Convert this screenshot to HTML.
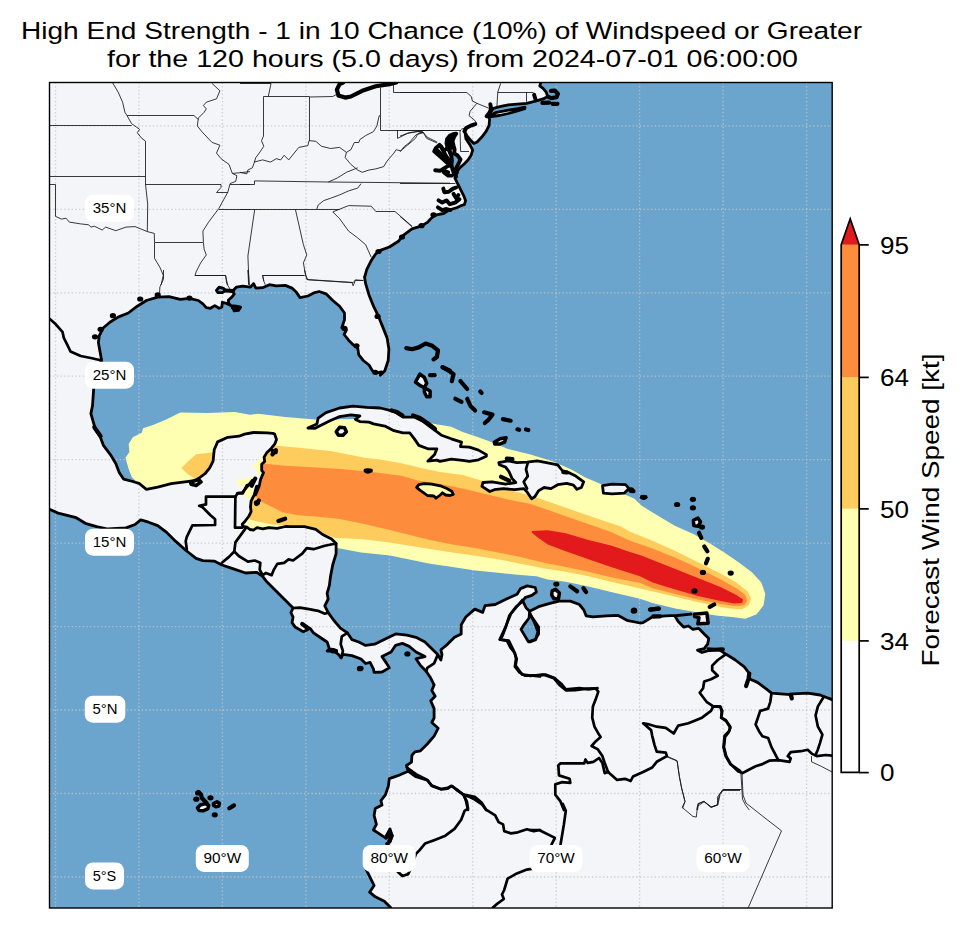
<!DOCTYPE html>
<html><head><meta charset="utf-8"><title>High End Strength wind swath</title>
<style>html,body{margin:0;padding:0;background:#fff}body{width:965px;height:928px;overflow:hidden;font-family:"Liberation Sans",sans-serif}svg{display:block;font-family:"Liberation Sans",sans-serif}</style></head><body>
<svg width="965" height="928" viewBox="0 0 965 928">
<rect width="965" height="928" fill="#fff"/>
<defs><clipPath id="mc"><rect x="49.5" y="82.5" width="782.7" height="825.5"/></clipPath>
<mask id="sea" maskUnits="userSpaceOnUse" x="0" y="0" width="965" height="928"><rect width="965" height="928" fill="#fff"/>
<path d="M540.9 82.3 L539.8 86 L543.1 88.3 L546.2 92.1 L547.7 96.6 L543.1 98.9 L535.6 101.1 L526.6 103.4 L517.5 104.1 L508.4 104.9 L500.9 106.4 L493.4 108.4 L490.3 112.4 L488.1 116.2 L489.6 119.2 L489.1 125.3 L486.1 131.3 L481.6 137.3 L477.1 141.9 L473.8 143.4 L470.7 140.3 L467 135.8 L464.4 131.3 L465 132 L465.9 138.8 L470 144.9 L472.7 150.2 L471 155.4 L468 160 L464.4 163.7 L460.5 167.2 L457.5 170.8 L456.9 173.2 L454.9 178.1 L457.9 184.1 L460.9 190.1 L463.9 196.2 L465.6 200.7 L464.4 204.6 L461.4 205.5 L455.6 208.2 L448.9 210 L443.6 213.5 L437.5 214.6 L433 216.7 L430 219.5 L427.8 222.1 L421 226.2 L412 228.9 L402.9 235.7 L398.4 241.3 L389.4 247 L380.3 250.4 L375.8 253.8 L371.2 260.6 L366.7 269.6 L364.9 276.4 L364.5 276.8 L365.6 283.6 L369 294.9 L373.5 306.2 L378 315.3 L382.6 326.6 L387.1 337.9 L388.9 349.2 L388.2 360.5 L384.8 370.7 L380.3 375.2 L381.4 371.8 L375.8 373 L372.4 370.7 L369 365 L363.3 360.5 L358.8 354.9 L357.7 348.1 L353.1 344.7 L348.6 340.2 L344.1 334.5 L346.4 330 L341.8 327.7 L344.5 319.8 L344.5 313 L339.6 306.2 L332.8 300.5 L326 293.8 L319.2 291.5 L314.7 292.6 L307.9 296 L300 297.6 L296.6 292.6 L292 288.1 L285.3 285.4 L276.2 285.8 L269.4 284.7 L262.6 287.7 L255.8 288.1 L253.6 283.6 L250.3 287.2 L242.8 286.2 L236.3 287.2 L232.6 291 L234.2 294.2 L232 296.9 L228.3 300.2 L228.8 303.4 L232.6 307.2 L234.2 310.9 L238.5 310.4 L240.6 307.2 L236.3 306.1 L230.9 305.6 L226.6 303.4 L222.3 302.3 L221.8 307.2 L219.1 308.3 L214.8 305.6 L210.5 308.3 L206.2 307.7 L202.9 303.9 L198.4 300.5 L189.4 298.3 L180.3 299.4 L169 296.7 L157.7 297.2 L146.4 300.5 L137.3 306.2 L128.3 313 L118.1 317.1 L110.2 322 L103.4 327.7 L99.3 335.6 L98.4 342.4 L100 351.5 L101.6 360.5 L95.4 371.8 L93.6 389.9 L92.5 405.8 L90.9 413.6 L95.4 429.4 L100 436.2 L103.4 445.3 L110.2 454.3 L115.8 463.4 L119.2 472.4 L123.7 479.2 L132.8 481.5 L139.6 483.7 L146.4 489.4 L157.7 487.1 L171.2 483.7 L184.8 481.9 L196.1 480.3 L205.2 473.5 L209.7 467.9 L213.1 461.1 L214.2 449.8 L217.6 441.9 L227.8 437.3 L239.1 436.2 L244.5 434.1 L253.6 432.5 L267.2 432.9 L272.8 433.4 L274.7 434.1 L276.5 439.5 L274.7 444.2 L271.2 448.4 L266.5 453.1 L264.1 457.2 L264.7 461.4 L261.7 464.3 L261.7 470.3 L263.5 472.6 L260.5 479.7 L259.3 485.7 L257 491.6 L253.4 496.3 L251.1 501.1 L250.5 507 L251.1 511.7 L248.7 516.5 L245.1 521.2 L242.2 524.2 L242.8 526.5 L246.9 527.1 L249.9 529.5 L253.4 530.1 L257 527.7 L262.9 528.9 L268.8 527.7 L277.1 528.3 L285.4 526.5 L290.9 526.6 L304.5 526.6 L315.8 529.3 L322.6 534.5 L331.6 539 L336.1 543.5 L336.1 553.7 L332.7 565 L330.5 576.4 L329.4 585.4 L327.1 593.3 L328.2 599 L324.8 605.8 L328.2 612.6 L333.9 620.5 L340.7 628.4 L347.5 632.9 L352 639.7 L358.8 642 L365.6 645.4 L374.6 644.2 L383.7 639.7 L395.6 633.9 L406.9 635.1 L416 637.3 L425 641.9 L431.8 648.7 L437.5 654.3 L440.9 660 L442 654.3 L440.9 649.8 L447.7 644.1 L454.5 637.3 L461.2 633.9 L461.2 624.9 L465.8 617 L474.8 609.1 L482.7 612.4 L485 605.7 L495.2 604.5 L506.9 598.8 L517.1 594.3 L520.5 588.6 L527.3 585.9 L535.2 587.5 L536.4 592 L531.8 595.4 L525 597.7 L522.8 601.1 L526.2 607.9 L529.6 611.2 L538.6 606.7 L549.9 603.3 L559 601.1 L570.3 601.1 L579.4 604.5 L583.9 610.1 L586.1 615.8 L592.9 616.9 L606.5 615.8 L617.8 615.3 L626.9 620.3 L640 623 L643.1 622.6 L652.2 617 L665.8 615.8 L677.1 615.4 L691.1 614.2 L674.8 615.8 L678.2 621.5 L683.9 627.2 L688.4 626 L692.9 629.4 L698.6 628.3 L704.2 633.9 L708.8 638.5 L707.6 644.1 L704.2 648.7 L697.5 650.2 L702 652.5 L711 649.8 L708.1 648.7 L719.4 649.8 L726.2 654.3 L735.3 660 L744.3 666.8 L749.3 673.5 L749.3 678.8 L757.9 682.6 L766.9 689.4 L771.5 693.2 L780.5 693.9 L790.7 694.6 L793 693.9 L807.7 693.2 L820.1 695 L832.1 699.6 L837.2 700 L837.2 913 L391 913 L390.6 907.6 L384.3 901.3 L375.3 896.8 L369.6 892.2 L374.1 885.5 L369.6 876.4 L366.2 869.6 L375.3 865.1 L393.4 864 L410.3 869.6 L408.1 874.1 L402.4 876 L397.9 871.9 L402.4 865.1 L397.9 853.8 L386.6 843.6 L390 842 L392.2 835.7 L390 828.9 L385.4 837.9 L378.7 833.4 L373.4 830 L376.4 824.4 L374.1 815.3 L375.3 808.5 L382 805.1 L380.9 800.6 L385.4 794.9 L388.4 785.9 L389.3 778.6 L397.9 775.7 L408.1 771.2 L406.5 765.5 L411.5 762.1 L411.9 755.3 L414.9 751.9 L420.5 750.8 L427.3 744 L434.1 736.1 L438.2 728.2 L431.8 722.5 L434.1 718 L434.1 708.6 L430.7 700.7 L435.2 696.2 L431.8 690.5 L434.1 684.9 L430.7 678.1 L426.2 671.3 L420.5 665.6 L416 658.8 L420.5 657.7 L425 656.6 L416 652 L409.2 646.4 L402.4 643.4 L395.6 645.3 L391.1 652 L382 656.6 L386.6 663.4 L389.3 667.9 L382 672 L374.1 672.4 L373.5 669.1 L370.1 662.3 L365.6 663.5 L361 659 L352 655.6 L342.9 654.4 L341.1 657.8 L338.4 654.4 L333.9 651 L327.1 651 L329.4 648.8 L327.1 642 L320.3 637.5 L313.5 632.9 L310.1 628.4 L302.2 623.9 L307.9 629.5 L303.3 631.8 L295.4 627.3 L292 622.7 L293.1 617.1 L290.9 612.6 L293.1 608 L288.6 603.5 L281.8 596.7 L272.8 587.7 L266 580.9 L262.6 576.4 L256.9 572.3 L245.6 573 L232 568.4 L221.9 565 L214.2 561.1 L202.9 560.7 L196.1 558.4 L186 550.5 L175.8 541.4 L166.7 532.4 L157.7 525.6 L148.6 522.2 L140.7 519.9 L135 524.5 L126 527.9 L107.9 529 L96.6 526.7 L85.3 523.3 L76.2 517.7 L67.2 515.4 L58.1 513.1 L49.5 509.3 L44.5 509 L44.5 77.5 L541 77.5 Z" fill="#000"/>
<path d="M307.9 428 L316.9 423.9 L318.1 418.2 L326 412.6 L339.6 408 L353.1 406.2 L366.7 407.4 L380.3 408 L393.9 411.4 L402.9 417.1 L414.2 417.1 L423.3 421.6 L432.3 428.4 L441.4 435.2 L451.3 438.8 L461.5 442.2 L460.4 446.7 L469.4 447.2 L478.5 450.1 L486.4 454.6 L486.4 456.2 L478.5 459.8 L469.4 461.4 L462.6 460.3 L451.3 459.2 L440 461.4 L436.9 460.1 L427.8 461.2 L434.6 454.4 L436.9 448.8 L427.8 448.8 L418.8 445.4 L414.2 438.6 L409.7 432.9 L402.9 432.9 L393.9 430.7 L384.8 426.1 L373.5 423.9 L369 422.1 L359.9 421.6 L355.4 419.4 L359.9 416 L350.9 414.8 L339.6 416.6 L330.5 420.5 L321.5 425 L314.7 428.4 L307.9 428 Z" fill="#000"/>
<path d="M490.3 115 L496.4 112.4 L508.4 110.2 L517.5 108.7 L525 107.2 L524.7 108.7 L517.5 110.9 L508.4 113.5 L499.4 115.5 L491.1 116.5 Z" fill="#000"/>
<path d="M415.4 382 L419.9 374.1 L424.4 377.5 L426.7 383.1 L424.4 387.7 L419.9 385.4 Z" fill="#000"/>
<path d="M424.4 387.7 L430.1 391.1 L430.1 396.7 L426.7 396.7 L424.4 392.2 Z" fill="#000"/>
<path d="M336.2 431.8 L339.6 427.3 L344.5 427.7 L346.4 431.8 L343 435.2 L338.4 435.2 Z" fill="#000"/>
<path d="M494.3 442.2 L500 438.8 L506.1 437.7 L504.5 442.2 L500 444 L494.8 444 Z" fill="#000"/>
<path d="M498.8 462.6 L507.9 460.8 L516.9 462.6 L527.1 462.1 L537.3 460.8 L546.4 462.6 L557.7 464.8 L562.2 470.5 L569 472.7 L575.8 476.1 L583.7 481.8 L581.4 487.5 L576.9 489.3 L573.5 485.2 L566.7 483.4 L557.7 484.7 L550.9 488.6 L544.1 487.5 L538.4 490.9 L535 496.5 L531.6 498.8 L527.1 492 L523.7 488.6 L514.7 489.7 L503.4 488.6 L494.3 489.7 L489.8 491.5 L481.9 486.3 L483 482.5 L492 481.8 L505.6 484.1 L515.8 482.5 L512 478.4 L509 471.6 L505.6 467.1 L499.3 464.8 Z" fill="#000"/>
<path d="M602.5 485.6 L612 484.1 L625.6 484.7 L629 488.6 L624.4 493.1 L612 493.8 L603.4 493.1 Z" fill="#000"/>
<path d="M693.4 520.3 L697.9 518.1 L700.6 521.9 L697.9 526.4 L693.8 525.5 Z" fill="#000"/>
<path d="M694.5 614.2 L706.9 613.1 L708.1 623.3 L697.9 623.8 L699 617.6 L694.5 616.5 Z" fill="#000"/>
<path d="M552.2 590.9 L555.6 589.3 L559.4 593.1 L558.5 598.8 L554 598.8 L551.7 595 Z" fill="#000"/>
<path d="M190.5 482.6 L198.4 479.2 L201.1 481.9 L196.1 485.5 L191.2 484.2 Z" fill="#000"/>
<path d="M197.4 807.9 L200.3 805 L205.4 803.6 L208.7 805.4 L207.9 808.7 L203.2 810.8 L198.9 810.5 Z" fill="#000"/>
<path d="M213.4 803.6 L217 801.8 L219.5 803.2 L218.8 806.1 L215.9 806.8 L213.5 805.4 Z" fill="#000"/>
</mask></defs>
<g clip-path="url(#mc)">
<rect x="49.5" y="82.5" width="782.7" height="825.5" fill="#6ba5cd"/>
<g fill="#f4f5f8">
<path d="M540.9 82.3 L539.8 86 L543.1 88.3 L546.2 92.1 L547.7 96.6 L543.1 98.9 L535.6 101.1 L526.6 103.4 L517.5 104.1 L508.4 104.9 L500.9 106.4 L493.4 108.4 L490.3 112.4 L488.1 116.2 L489.6 119.2 L489.1 125.3 L486.1 131.3 L481.6 137.3 L477.1 141.9 L473.8 143.4 L470.7 140.3 L467 135.8 L464.4 131.3 L465 132 L465.9 138.8 L470 144.9 L472.7 150.2 L471 155.4 L468 160 L464.4 163.7 L460.5 167.2 L457.5 170.8 L456.9 173.2 L454.9 178.1 L457.9 184.1 L460.9 190.1 L463.9 196.2 L465.6 200.7 L464.4 204.6 L461.4 205.5 L455.6 208.2 L448.9 210 L443.6 213.5 L437.5 214.6 L433 216.7 L430 219.5 L427.8 222.1 L421 226.2 L412 228.9 L402.9 235.7 L398.4 241.3 L389.4 247 L380.3 250.4 L375.8 253.8 L371.2 260.6 L366.7 269.6 L364.9 276.4 L364.5 276.8 L365.6 283.6 L369 294.9 L373.5 306.2 L378 315.3 L382.6 326.6 L387.1 337.9 L388.9 349.2 L388.2 360.5 L384.8 370.7 L380.3 375.2 L381.4 371.8 L375.8 373 L372.4 370.7 L369 365 L363.3 360.5 L358.8 354.9 L357.7 348.1 L353.1 344.7 L348.6 340.2 L344.1 334.5 L346.4 330 L341.8 327.7 L344.5 319.8 L344.5 313 L339.6 306.2 L332.8 300.5 L326 293.8 L319.2 291.5 L314.7 292.6 L307.9 296 L300 297.6 L296.6 292.6 L292 288.1 L285.3 285.4 L276.2 285.8 L269.4 284.7 L262.6 287.7 L255.8 288.1 L253.6 283.6 L250.3 287.2 L242.8 286.2 L236.3 287.2 L232.6 291 L234.2 294.2 L232 296.9 L228.3 300.2 L228.8 303.4 L232.6 307.2 L234.2 310.9 L238.5 310.4 L240.6 307.2 L236.3 306.1 L230.9 305.6 L226.6 303.4 L222.3 302.3 L221.8 307.2 L219.1 308.3 L214.8 305.6 L210.5 308.3 L206.2 307.7 L202.9 303.9 L198.4 300.5 L189.4 298.3 L180.3 299.4 L169 296.7 L157.7 297.2 L146.4 300.5 L137.3 306.2 L128.3 313 L118.1 317.1 L110.2 322 L103.4 327.7 L99.3 335.6 L98.4 342.4 L100 351.5 L101.6 360.5 L95.4 371.8 L93.6 389.9 L92.5 405.8 L90.9 413.6 L95.4 429.4 L100 436.2 L103.4 445.3 L110.2 454.3 L115.8 463.4 L119.2 472.4 L123.7 479.2 L132.8 481.5 L139.6 483.7 L146.4 489.4 L157.7 487.1 L171.2 483.7 L184.8 481.9 L196.1 480.3 L205.2 473.5 L209.7 467.9 L213.1 461.1 L214.2 449.8 L217.6 441.9 L227.8 437.3 L239.1 436.2 L244.5 434.1 L253.6 432.5 L267.2 432.9 L272.8 433.4 L274.7 434.1 L276.5 439.5 L274.7 444.2 L271.2 448.4 L266.5 453.1 L264.1 457.2 L264.7 461.4 L261.7 464.3 L261.7 470.3 L263.5 472.6 L260.5 479.7 L259.3 485.7 L257 491.6 L253.4 496.3 L251.1 501.1 L250.5 507 L251.1 511.7 L248.7 516.5 L245.1 521.2 L242.2 524.2 L242.8 526.5 L246.9 527.1 L249.9 529.5 L253.4 530.1 L257 527.7 L262.9 528.9 L268.8 527.7 L277.1 528.3 L285.4 526.5 L290.9 526.6 L304.5 526.6 L315.8 529.3 L322.6 534.5 L331.6 539 L336.1 543.5 L336.1 553.7 L332.7 565 L330.5 576.4 L329.4 585.4 L327.1 593.3 L328.2 599 L324.8 605.8 L328.2 612.6 L333.9 620.5 L340.7 628.4 L347.5 632.9 L352 639.7 L358.8 642 L365.6 645.4 L374.6 644.2 L383.7 639.7 L395.6 633.9 L406.9 635.1 L416 637.3 L425 641.9 L431.8 648.7 L437.5 654.3 L440.9 660 L442 654.3 L440.9 649.8 L447.7 644.1 L454.5 637.3 L461.2 633.9 L461.2 624.9 L465.8 617 L474.8 609.1 L482.7 612.4 L485 605.7 L495.2 604.5 L506.9 598.8 L517.1 594.3 L520.5 588.6 L527.3 585.9 L535.2 587.5 L536.4 592 L531.8 595.4 L525 597.7 L522.8 601.1 L526.2 607.9 L529.6 611.2 L538.6 606.7 L549.9 603.3 L559 601.1 L570.3 601.1 L579.4 604.5 L583.9 610.1 L586.1 615.8 L592.9 616.9 L606.5 615.8 L617.8 615.3 L626.9 620.3 L640 623 L643.1 622.6 L652.2 617 L665.8 615.8 L677.1 615.4 L691.1 614.2 L674.8 615.8 L678.2 621.5 L683.9 627.2 L688.4 626 L692.9 629.4 L698.6 628.3 L704.2 633.9 L708.8 638.5 L707.6 644.1 L704.2 648.7 L697.5 650.2 L702 652.5 L711 649.8 L708.1 648.7 L719.4 649.8 L726.2 654.3 L735.3 660 L744.3 666.8 L749.3 673.5 L749.3 678.8 L757.9 682.6 L766.9 689.4 L771.5 693.2 L780.5 693.9 L790.7 694.6 L793 693.9 L807.7 693.2 L820.1 695 L832.1 699.6 L837.2 700 L837.2 913 L391 913 L390.6 907.6 L384.3 901.3 L375.3 896.8 L369.6 892.2 L374.1 885.5 L369.6 876.4 L366.2 869.6 L375.3 865.1 L393.4 864 L410.3 869.6 L408.1 874.1 L402.4 876 L397.9 871.9 L402.4 865.1 L397.9 853.8 L386.6 843.6 L390 842 L392.2 835.7 L390 828.9 L385.4 837.9 L378.7 833.4 L373.4 830 L376.4 824.4 L374.1 815.3 L375.3 808.5 L382 805.1 L380.9 800.6 L385.4 794.9 L388.4 785.9 L389.3 778.6 L397.9 775.7 L408.1 771.2 L406.5 765.5 L411.5 762.1 L411.9 755.3 L414.9 751.9 L420.5 750.8 L427.3 744 L434.1 736.1 L438.2 728.2 L431.8 722.5 L434.1 718 L434.1 708.6 L430.7 700.7 L435.2 696.2 L431.8 690.5 L434.1 684.9 L430.7 678.1 L426.2 671.3 L420.5 665.6 L416 658.8 L420.5 657.7 L425 656.6 L416 652 L409.2 646.4 L402.4 643.4 L395.6 645.3 L391.1 652 L382 656.6 L386.6 663.4 L389.3 667.9 L382 672 L374.1 672.4 L373.5 669.1 L370.1 662.3 L365.6 663.5 L361 659 L352 655.6 L342.9 654.4 L341.1 657.8 L338.4 654.4 L333.9 651 L327.1 651 L329.4 648.8 L327.1 642 L320.3 637.5 L313.5 632.9 L310.1 628.4 L302.2 623.9 L307.9 629.5 L303.3 631.8 L295.4 627.3 L292 622.7 L293.1 617.1 L290.9 612.6 L293.1 608 L288.6 603.5 L281.8 596.7 L272.8 587.7 L266 580.9 L262.6 576.4 L256.9 572.3 L245.6 573 L232 568.4 L221.9 565 L214.2 561.1 L202.9 560.7 L196.1 558.4 L186 550.5 L175.8 541.4 L166.7 532.4 L157.7 525.6 L148.6 522.2 L140.7 519.9 L135 524.5 L126 527.9 L107.9 529 L96.6 526.7 L85.3 523.3 L76.2 517.7 L67.2 515.4 L58.1 513.1 L49.5 509.3 L44.5 509 L44.5 77.5 L541 77.5 Z"/>
<path d="M307.9 428 L316.9 423.9 L318.1 418.2 L326 412.6 L339.6 408 L353.1 406.2 L366.7 407.4 L380.3 408 L393.9 411.4 L402.9 417.1 L414.2 417.1 L423.3 421.6 L432.3 428.4 L441.4 435.2 L451.3 438.8 L461.5 442.2 L460.4 446.7 L469.4 447.2 L478.5 450.1 L486.4 454.6 L486.4 456.2 L478.5 459.8 L469.4 461.4 L462.6 460.3 L451.3 459.2 L440 461.4 L436.9 460.1 L427.8 461.2 L434.6 454.4 L436.9 448.8 L427.8 448.8 L418.8 445.4 L414.2 438.6 L409.7 432.9 L402.9 432.9 L393.9 430.7 L384.8 426.1 L373.5 423.9 L369 422.1 L359.9 421.6 L355.4 419.4 L359.9 416 L350.9 414.8 L339.6 416.6 L330.5 420.5 L321.5 425 L314.7 428.4 L307.9 428 Z"/>
<path d="M490.3 115 L496.4 112.4 L508.4 110.2 L517.5 108.7 L525 107.2 L524.7 108.7 L517.5 110.9 L508.4 113.5 L499.4 115.5 L491.1 116.5 Z"/>
<path d="M415.4 382 L419.9 374.1 L424.4 377.5 L426.7 383.1 L424.4 387.7 L419.9 385.4 Z"/>
<path d="M424.4 387.7 L430.1 391.1 L430.1 396.7 L426.7 396.7 L424.4 392.2 Z"/>
<path d="M336.2 431.8 L339.6 427.3 L344.5 427.7 L346.4 431.8 L343 435.2 L338.4 435.2 Z"/>
<path d="M494.3 442.2 L500 438.8 L506.1 437.7 L504.5 442.2 L500 444 L494.8 444 Z"/>
<path d="M498.8 462.6 L507.9 460.8 L516.9 462.6 L527.1 462.1 L537.3 460.8 L546.4 462.6 L557.7 464.8 L562.2 470.5 L569 472.7 L575.8 476.1 L583.7 481.8 L581.4 487.5 L576.9 489.3 L573.5 485.2 L566.7 483.4 L557.7 484.7 L550.9 488.6 L544.1 487.5 L538.4 490.9 L535 496.5 L531.6 498.8 L527.1 492 L523.7 488.6 L514.7 489.7 L503.4 488.6 L494.3 489.7 L489.8 491.5 L481.9 486.3 L483 482.5 L492 481.8 L505.6 484.1 L515.8 482.5 L512 478.4 L509 471.6 L505.6 467.1 L499.3 464.8 Z"/>
<path d="M602.5 485.6 L612 484.1 L625.6 484.7 L629 488.6 L624.4 493.1 L612 493.8 L603.4 493.1 Z"/>
<path d="M693.4 520.3 L697.9 518.1 L700.6 521.9 L697.9 526.4 L693.8 525.5 Z"/>
<path d="M694.5 614.2 L706.9 613.1 L708.1 623.3 L697.9 623.8 L699 617.6 L694.5 616.5 Z"/>
<path d="M552.2 590.9 L555.6 589.3 L559.4 593.1 L558.5 598.8 L554 598.8 L551.7 595 Z"/>
<path d="M190.5 482.6 L198.4 479.2 L201.1 481.9 L196.1 485.5 L191.2 484.2 Z"/>
<path d="M197.4 807.9 L200.3 805 L205.4 803.6 L208.7 805.4 L207.9 808.7 L203.2 810.8 L198.9 810.5 Z"/>
<path d="M213.4 803.6 L217 801.8 L219.5 803.2 L218.8 806.1 L215.9 806.8 L213.5 805.4 Z"/>
</g>
<g fill="#6ba5cd">
<path d="M529.6 611.2 L529.1 618 L523.9 624.8 L521 629.4 L525 636.1 L528.4 641.8 L535.2 639.5 L538.6 633.9 L538.6 627.1 L534.1 620.3 L530 614.6 Z"/>
<path d="M216.4 290.5 L219.1 287.2 L223.4 288.3 L225.6 290.5 L222.3 292.6 L218 292.6 Z"/>
<path d="M451.4 155.2 L457.3 156.2 L460 160.5 L457.3 164.9 L455.7 170.2 L456.2 173.5 L453.5 172.4 L451.9 168.1 L451.7 161.6 Z"/>
<path d="M530 613.6 L534.5 622.6 L537.9 631.7 L535.7 639.6 L530 641.9 Z"/>
</g>
<g stroke="#c4c5c6" stroke-width="1.3" stroke-dasharray="1.3 2.39" stroke-opacity="0.85" fill="none">
<path d="M55.5 82.5 V908.0"/>
<path d="M138.9 82.5 V908.0"/>
<path d="M222.4 82.5 V908.0"/>
<path d="M305.9 82.5 V908.0"/>
<path d="M389.3 82.5 V908.0"/>
<path d="M472.8 82.5 V908.0"/>
<path d="M556.2 82.5 V908.0"/>
<path d="M639.6 82.5 V908.0"/>
<path d="M723.1 82.5 V908.0"/>
<path d="M806.6 82.5 V908.0"/>
<path d="M49.5 125.9 H832.2"/>
<path d="M49.5 209.4 H832.2"/>
<path d="M49.5 292.8 H832.2"/>
<path d="M49.5 376.2 H832.2"/>
<path d="M49.5 459.7 H832.2"/>
<path d="M49.5 543.1 H832.2"/>
<path d="M49.5 626.6 H832.2"/>
<path d="M49.5 710.0 H832.2"/>
<path d="M49.5 793.5 H832.2"/>
<path d="M49.5 877.0 H832.2"/>
</g>
<g mask="url(#sea)">
<path d="M180.3 412.4 L207.5 413 L234.6 412.1 L250 414.8 L258.1 413.7 L285.3 417.1 L314.7 419.4 L360 419 L421 420.5 L434.6 423.9 L451.3 426.8 L462.6 432 L476.2 436.5 L492 442.2 L507.9 449 L530.5 454.6 L553.1 461.4 L571.3 469.4 L584.8 477.3 L598.4 482.9 L634.6 498.8 L641.3 505.6 L652.6 512.4 L663.9 519.2 L675.3 526 L693.4 533.9 L709.2 543 L725 553.1 L738.6 562.2 L752.2 572.4 L761.3 582.6 L765.3 593.9 L763.5 605.2 L756.7 614.2 L745.4 618.8 L731.8 617 L716 615.4 L697.9 612.4 L675.3 608.6 L652.6 602.9 L640 598.8 L611 592 L588.4 586.4 L565.8 581.8 L547.7 579.6 L536.4 576.2 L520.5 575 L497.9 572.8 L475.3 570.5 L452.6 567.1 L430 563.7 L390 555.5 L361 552.6 L337.3 548 L300 540 L245.6 527 L230 500 L200 492 L147 493 L138 485 L135 480.3 L131.7 476.9 L128.3 467.9 L125.5 457.7 L129.4 452 L128.7 444.1 L132.8 437.3 L141.8 432.8 L143 428.3 L153.1 424.9 L166.7 419.2 Z" fill="#ffffb2"/>
<path d="M262 445 L273.9 445.4 L296.6 447.6 L330.5 451 L364.5 457.8 L380 459.5 L401.6 463.2 L423.1 468.6 L440 472 L462.6 475 L485.3 481.8 L507.9 489.7 L530.5 495.4 L553.1 503.3 L575.8 511.2 L598.4 519.1 L621 526.4 L630 531.7 L652.6 540.7 L675.3 550.9 L697.9 562.2 L720.5 573.5 L736.4 582.6 L747.7 591.6 L751 598.4 L748.8 605.2 L742 609.3 L729.6 608.6 L709.2 604.7 L686.6 599.5 L664 593.9 L640 588.6 L611 581.8 L588.4 576.2 L565.8 571.7 L543.1 568.3 L520.5 563.7 L497.9 559.2 L475.3 555.8 L452.6 552.4 L430 549 L390 542.4 L361 539 L336.1 537.9 L310 530 L288.6 525.4 L270.5 524.3 L250.2 519.8 L240 500 L250 470 Z" fill="#fecc5c"/>
<path d="M181.4 467.9 L187.1 462.2 L196.1 454.3 L212 452.5 L218 455 L216 475 L202.9 478 L196.1 480 L187.1 473.5 Z" fill="#fecc5c"/>
<path d="M258 463 L262.6 463.5 L285.3 465.7 L307.9 466.9 L341.8 469.1 L375.8 472.5 L401.6 475.8 L417.7 480.4 L440 484 L462.6 488.6 L485.3 494 L507.9 499.5 L530.5 504 L543.1 508.3 L565.8 516.2 L588.4 524.1 L611 532 L630 540.7 L652.6 548.6 L675.3 557.7 L697.9 567.9 L720.5 579.2 L736.4 588.2 L745.4 595 L747.2 600.7 L744.3 605.2 L736.4 606.3 L720.5 604.1 L697.9 599.5 L675.3 593.9 L652.6 588.2 L640 583 L611 577.3 L588.4 571.7 L565.8 567.1 L543.1 562.6 L520.5 556.9 L497.9 552.4 L475.3 547.9 L452.6 544.5 L430 540 L390 530 L361 523.2 L338.4 518.7 L315.8 516.4 L297.7 515.3 L281.8 511.9 L270.5 506.2 L259.2 500.5 L252 492.6 L252 483.6 L255 470 Z" fill="#fd8d3c"/>
<path d="M531.8 530.9 L547.7 530.2 L565.8 533.2 L588.4 540 L611 545.6 L630 552 L641.3 555.4 L652.6 559.9 L675.3 569 L697.9 578 L720.5 587.1 L736.4 595 L743.1 599.5 L742 602.9 L734.1 603.4 L720.5 601.1 L697.9 596.1 L675.3 589.4 L652.6 582.6 L640 576.2 L611 567.1 L588.4 559.2 L565.8 551.3 L547.7 544.5 L536.4 536.6 L531.8 532.5 Z" fill="#e31a1c"/>
</g>
<path d="M252.2 465.5 L260.5 458.4 L264.1 457.8 L261.7 464.3 L261.7 470.3 L262.9 472.6 L258.2 475 L255.2 471.5 L256.4 467.9 L252.8 466.7 Z" fill="#ffffb2"/>
<path d="M236.3 485.1 L238 479.7 L245.1 478.6 L253.4 476.8 L254.6 478.6 L251.6 484.5 L246.9 485.1 L245.1 488 L240.4 485.7 Z" fill="#ffffb2"/>
<path d="M242.8 494 L247.5 485.7 L252 485.1 L253.4 491.6 L250.5 499.9 L248.7 496.9 L246.9 498.1 L244 496.9 Z" fill="#ffffb2"/>
<path d="M416.6 487.4 L418.8 484.7 L424.2 483.6 L431.7 484.2 L440.3 485.8 L446.8 488.5 L451.7 491.2 L453.3 494.4 L450 495.5 L445.7 495 L442.5 492.8 L440.3 495 L436 498.2 L433.9 496 L427.4 495.5 L423.1 492.3 L419.9 490.1 Z" fill="#ffffb2"/>
<g stroke="#161616" stroke-width="0.85" fill="none" stroke-linejoin="round">
<path d="M112.4 82.5 L118.1 92 L122.6 102.2 L124.9 112.3 L127.1 115.7 L131.6 123.7 L139.6 129.3 L137.3 132.7 L141.8 138.4 L145.5 141.1 L145.5 184.3 L147.7 204 L147.3 231.6 L154.3 233.4 L154.5 242.5 L154.5 258.3 L159.9 267.3 L163.3 275.3 L161.1 285"/>
<path d="M127.1 115.5 L193.9 115.5 L198.4 119.6"/>
<path d="M49.5 125.5 L131.6 125.5"/>
<path d="M49.5 176.5 L145.2 176.5"/>
<path d="M49.5 184.5 L55.5 184.5 L55.5 216.4 L61.5 219.1 L66 218.2 L69.4 222.1 L80.7 223.9 L88.7 224.8 L90.9 227.1 L94.3 226.2 L102.2 230 L105.6 227.1 L115.8 230.7 L126 227.1 L135 226.6 L147.3 231.6"/>
<path d="M145.2 184.5 L221 184.5 L221 187.5 L216.5 192.5 L227.8 192.5"/>
<path d="M212 83.4 L219.9 90.8 L216.5 98.8 L206.3 102.2 L203.4 105.5 L206.3 108.9 L204.1 112.3 L198.4 118 L197.3 125.9 L201.8 131.6 L212 142.4 L219.9 145.2 L216.5 153.1 L221 158.7 L229 164.4 L232.3 173.4 L236.9 175.7 L235.7 181.4 L230.1 183.6 L227.8 192.2 L218.8 208.5 L208.6 222.1 L202.9 231.1 L203.4 242.5 L204.1 249.2 L206.3 254.9 L200.7 262.8 L196.1 271.9 L195 275.7"/>
<path d="M232.3 173.4 L239.1 172.8 L250 171.6"/>
<path d="M154.7 242.5 L202.9 242.5"/>
<path d="M195 275.5 L225.6 275.5 L226.7 280.9 L227.8 285"/>
<path d="M240 83.5 L271 83.5 L268.3 96.5"/>
<path d="M309 96.5 L263.5 96.5 L263.5 136.1 L261.5 140.6 L263.8 146.3 L259.2 153.1 L255.8 157.6 L254 163.3 L252.4 167.8 L247.9 170 L246.8 173.9 L240 172.3"/>
<path d="M309.5 96.5 L309.5 140.6"/>
<path d="M309 97 L332.8 96.5 L336.9 94.2"/>
<path d="M254 162.1 L262.6 159.9 L270.5 162.1 L276.2 158.7 L280.7 159.9 L284.1 155.3 L288.7 159.9 L298.8 147.4 L307.9 145.6 L309 140.6 L315.8 141.3 L321.5 146.3 L330.5 148.5 L339.6 147.4 L346.4 152.4 L350.9 149.7 L354.3 142.5 L358.8 142.5 L359.9 139.5 L365.6 135.6 L373.5 131.6 L376.9 125.9 L379.2 115.7 L380.3 115.7"/>
<path d="M380.5 87.4 L380.5 130.5 L450 130.5"/>
<path d="M393.5 84.1 L393.5 92.5 L450 92.5"/>
<path d="M346.4 152.4 L345.2 157.6 L350.9 164.4 L357.7 170 L362.2 172.3 L369 170 L375.8 168.9 L383.7 166.6 L387.1 161 L393.9 153.1 L396.1 149.7 L400.7 150.8 L407.5 145.2 L415.4 138.4 L417.6 134.3 L423.3 132.7 L426.7 138.4 L436.9 142.9"/>
<path d="M397.5 130 L397.5 138.4 L407.5 133.4 L417.6 131.6 L423.3 132.7"/>
<path d="M357.7 167.8 L346.4 172.3 L337.3 178 L328.3 182"/>
<path d="M240 184.5 L254.5 184.5 L254.5 180.9 L328.3 182 L450 183.2"/>
<path d="M361.1 183.6 L357.7 188.1 L348.6 190.9 L339.6 194.9 L330.5 198.3 L323.7 200.6 L318.1 205.1 L316.9 209"/>
<path d="M240 209.5 L339.6 209.5"/>
<path d="M332.8 211.9 L348.6 205.6 L371.2 206.2 L375.8 211.5 L395 211.5 L412 226.2"/>
<path d="M332.8 211.9 L339.6 218.7 L348.6 231.1 L357.7 237.9 L365.6 244.7 L371.2 257.2"/>
<path d="M254.7 209.4 L247.9 256 L249.1 285"/>
<path d="M295.4 209.4 L303.4 244.7 L306.8 254.9 L303.4 262.8 L305.6 275.3 L307.9 279.8"/>
<path d="M263.8 280.9 L262.6 275.5 L304.5 275.5"/>
<path d="M307.9 279.8 L353.1 282.7 L355.4 279.8 L363.3 280.5"/>
<path d="M400 92.5 L466.8 92.5 L471.3 96.5 L472.4 101 L476.9 103.3 L489.4 108.5"/>
<path d="M476.9 103.3 L470.2 111.2 L469 115.7 L474.7 120.3 L476.9 123.7 L467.9 127 L461.1 129.3"/>
<path d="M400 130.5 L461.1 130.5"/>
<path d="M460 130 L460.6 151.5 L469 151.5"/>
<path d="M500.7 83.4 L497.8 92 L496.9 106.7"/>
<path d="M497.8 92.5 L533.5 92.5"/>
<path d="M526.5 92 L526.5 101.7"/>
<path d="M400 183.5 L455.4 183.5"/>
<path d="M400 151.9 L404.5 146.3 L409.1 142.9 L415.8 135 L422.6 131.6 L427.2 137.2 L437.3 142.2"/>
<path d="M400 136.1 L409.1 132.7 L417 131.5 L422.6 131.5"/>
<path d="M400 216.4 L412.4 227.1"/>
<path d="M163.5 270 L163.5 279.1 L159.9 287 L159.5 293.8"/>
<path d="M195 275.5 L225.6 275.5 L226.7 283.6 L230.1 289.2"/>
<path d="M248.2 270 L249.3 285.4"/>
<path d="M247.9 270 L248.6 284.7"/>
<path d="M265.3 284.7 L263.8 281.3 L262.6 275.5 L304.5 275.5"/>
<path d="M304.5 270 L306.8 279.5 L352 282.4 L353.1 285.8 L355.4 280.5 L363.3 280.5"/>
<path d="M666.9 756.1 L677.1 760.7 L679.4 776.5 L681.6 787.8 L685 801.4 L682.7 808.2"/>
<path d="M697.5 810 L698.6 803.7 L704.2 801.4 L711 807.1 L717.8 804.8 L720.1 794.6 L723.5 789.5 L740 789.5"/>
<path d="M740.9 773.1 L742.5 799.1 L745.4 804.8 L749.3 810"/>
<path d="M696.8 810 L697.9 803.7 L703.6 801.4 L711.5 807.1 L717.2 804.8 L719.4 794.6 L722.8 789.5 L741.6 789.5"/>
<path d="M811.5 756.1 L811.5 761.8 L821.2 766.3 L832.1 772"/>
<path d="M666.9 756.9 L677.1 761 L679.4 776.8 L681.6 788.2 L685 801.7 L682.1 807.4 L692.9 816.4 L696.3 817.1 L697.5 806.3 L704.2 801.7 L711 807.4 L717.8 805.1 L717.4 797.2 L722.3 790.5 L740 790.5"/>
<path d="M230.1 184.5 L250 184.5"/>
<path d="M218.8 209.5 L250 209.5"/>
<path d="M742 772.7 L743 795 L746 803 L762.8 816.3 L781.5 830.8 L748.3 907.6"/>
</g>
<g stroke="#000" stroke-width="2.7" fill="none" stroke-linejoin="round" stroke-linecap="round">
<path d="M49.5 318.7 L55.8 324.3 L62.6 332.2 L63.8 337.9 L67.2 344.7 L70.5 351.5 L80.7 356 L92 358.3 L101.6 360.5"/>
<path d="M527.8 462.6 L526 469.4 L527.8 476.1 L523.7 481.8 L527.1 488.6"/>
<path d="M522.8 601.1 L516 606.7 L509.2 615.8 L505.8 627.1 L502.4 636.1 L500.2 639.5 L506.9 640.7 L510.3 647.5 L514.9 653.1 L516 658.8 L514.9 666.7 L519.4 672.3 L525 675.7 L536.4 675.7 L545.4 674.6 L554.5 678 L561.2 683.7 L565.8 689.3 L579.4 688.2 L588.4 689.3 L597.5 688.2"/>
<path d="M186.8 549.2 L185.7 541.3 L186.8 536.8 L192.4 525.4 L215.1 525 L215.1 519.3 L210.5 515.3 L202.6 507.3 L199.2 505.8 L206 504.4 L206 496.7 L235.4 496.7"/>
<path d="M235.4 496.7 L235 527.7 L242.2 527.7"/>
<path d="M235.4 496.7 L237.7 493.1 L242.2 492.6 L247.9 485.8 L252.4 480.2"/>
<path d="M245.6 528.4 L235.4 542.4 L234.3 551.5"/>
<path d="M234.3 551.5 L228.7 557.1 L221.9 562.8"/>
<path d="M234.3 551.5 L238.8 556 L247.9 561.6 L254.7 560.5 L260.3 562.8 L259.7 569.6 L262.6 575.2"/>
<path d="M262.6 575.2 L266 573 L271.6 575.2 L273.9 569.6 L277.3 563.9 L284.1 562.8 L288.6 559.4 L293.1 560.5 L302.2 553.7 L306.7 548.1 L313.5 549.2 L324.8 545.8 L336.1 543.5"/>
<path d="M293.1 608 L299.9 607.6 L309 609.2 L318 610.8 L324.8 613.7 L328.2 612.6"/>
<path d="M347.5 632.9 L341.8 636.3 L340.7 644.2 L342.9 651 L341.1 657.8"/>
<path d="M437.5 655.4 L434.1 663.4 L427.3 667.9 L426.2 671.3"/>
<path d="M406.9 767.5 L416 774.2 L427.3 779.9 L431.8 785.6 L440.9 789 L447.7 787.8 L452.2 786 L456.7 790.1 L463.5 794.6 L465.8 800.3 L468 810"/>
<path d="M463.5 794.6 L474.8 796.9 L481.6 802.5 L486.1 810"/>
<path d="M522.3 600 L511 613.6 L505.4 627.2 L499.7 639.6 L508.8 640.7 L513.3 649.8 L516.7 658.8 L515.6 665.6 L522.3 674.7 L540 676.5"/>
<path d="M530 675.8 L543.6 674.7 L553.8 678.1 L559.4 684.9 L566.2 690.5 L575.3 690.1 L586.6 688.7 L595.6 688.3 L598.3 691.6 L595.6 699.6 L592.9 706.4 L592.2 717.7 L594.5 726.7 L599 734.6 L600.6 736.9 L595.6 741.4 L591.6 746 L597.9 749.4 L602.4 756.1 L604.7 762.9 L608.1 772"/>
<path d="M608.1 772 L604.7 773.1 L602.4 762.9 L599 758 L593.4 761.8 L587.7 762.9 L585.4 759.5 L584.3 763.4 L560.5 763.4 L558.3 765.2 L559 775.4 L569.6 778.8 L570.3 782.8 L561.7 782.2 L555.3 784.4 L555.3 794.6 L560.5 801.4 L563.9 810"/>
<path d="M608.1 772 L617.1 779.9 L625 778.8 L630.7 781 L633 776.5 L643.1 772 L652.2 767.5 L656.7 761.8 L666.9 756.1 L665.8 752.7 L656.7 751.6 L654.5 744.8 L652.2 735.8 L651.1 730.1 L643.1 723.3 L647.7 724 L656.7 726.7 L665.8 727.9 L673.7 733.5 L678.2 725.6 L688.4 723.3 L702 717.7 L711 710.9 L713.3 706.4"/>
<path d="M713.3 706.4 L706.5 701.8 L699.7 692.8 L703.1 688.3 L704.2 681.5 L711 679.2 L717.8 675.8 L712.2 670.2 L712.2 665.6 L717.8 660 L725.7 654.3"/>
<path d="M713.3 706.4 L720.1 706.4 L722.3 710.9 L721.2 717.7 L725.7 719.9 L730.3 726.7 L729.1 731.2 L724.6 735.8 L723.5 747.1 L725.7 756.1 L730.3 764.1 L740 770.9"/>
<path d="M771.5 693.2 L770.3 701.8 L768.1 708.6 L760.2 710.9 L757.9 717.7 L755.6 724.5 L759 731.2 L762.4 736.2 L768.1 738 L771.5 747.1 L778.3 760.2"/>
<path d="M712.6 706.4 L720.5 706.8 L721.7 712 L721.2 717.7 L726.2 721.1 L730.3 727.9 L728.5 732.4 L725.1 736.9 L723.9 747.1 L726.2 756.1 L730.7 764.1 L737.5 770.9 L742.5 773.1 L748.8 769.7 L755.6 766.3 L762.4 764.1 L769.2 760.7 L778.3 760.2 L789.6 761.8 L790.7 758.4 L787.8 756.1 L790.7 752.1 L800.9 751.2 L807.7 749.8 L812.2 753.9 L816.7 756.1 L825.8 755 L832.1 755.7"/>
<path d="M823.5 697.3 L817.9 706.4 L815.6 715.4 L817.9 726.7 L822.4 734.6 L820.1 742.6 L817.9 749.4 L815.6 755"/>
<path d="M408.1 771.2 L416 776.8 L427.3 780.2 L431.8 785.9 L440.9 789.3 L447.7 788.6 L451.1 785.9 L456.7 789.3 L463.5 794.9 L468 796.1"/>
<path d="M463.5 794.9 L466.9 801.7 L468 808.5 L464.6 810.8 L461.2 819.8 L454.5 828.9 L445.4 835.7 L434.1 840.2 L425 843.6 L419.4 850.4 L416 853.8 L412.6 862.8 L410.3 869.6"/>
<path d="M468 796.1 L474.8 799.5 L481.6 804 L486.1 809.6 L495.2 815.3 L498.6 822.1 L503.1 824.4 L504.2 831.1 L511 833.4 L517.8 832.3 L526.9 829.3 L533.7 831.1 L540 830"/>
<path d="M540 867.4 L526.9 869.6 L515.6 874.1 L507.6 878.7 L504.2 890 L502 894.5 L503.8 899 L497.5 903.6 L492.9 907.6"/>
<path d="M562.8 804 L565.8 810.8 L563.9 824.4 L560.5 844.7"/>
<path d="M530 830 L539.1 830 L554.9 837.9 L551.5 844.7"/>
<path d="M237.4 493.4 L242.8 493.4 L246.9 485.1 L251.6 484.5"/>
</g>
<g stroke="#000" stroke-width="2.8" fill="none" stroke-linejoin="round" stroke-linecap="round">
<path d="M540.9 82.3 L539.8 86 L543.1 88.3 L546.2 92.1 L547.7 96.6 L543.1 98.9 L535.6 101.1 L526.6 103.4 L517.5 104.1 L508.4 104.9 L500.9 106.4 L493.4 108.4 L490.3 112.4 L488.1 116.2 L489.6 119.2 L489.1 125.3 L486.1 131.3 L481.6 137.3 L477.1 141.9 L473.8 143.4 L470.7 140.3 L467 135.8 L464.4 131.3 L465 132 L465.9 138.8 L470 144.9 L472.7 150.2 L471 155.4 L468 160 L464.4 163.7 L460.5 167.2 L457.5 170.8 L456.9 173.2 L454.9 178.1 L457.9 184.1 L460.9 190.1 L463.9 196.2 L465.6 200.7 L464.4 204.6 L461.4 205.5 L455.6 208.2 L448.9 210 L443.6 213.5 L437.5 214.6 L433 216.7 L430 219.5 L427.8 222.1 L421 226.2 L412 228.9 L402.9 235.7 L398.4 241.3 L389.4 247 L380.3 250.4 L375.8 253.8 L371.2 260.6 L366.7 269.6 L364.9 276.4 L364.5 276.8 L365.6 283.6 L369 294.9 L373.5 306.2 L378 315.3 L382.6 326.6 L387.1 337.9 L388.9 349.2 L388.2 360.5 L384.8 370.7 L380.3 375.2 L381.4 371.8 L375.8 373 L372.4 370.7 L369 365 L363.3 360.5 L358.8 354.9 L357.7 348.1 L353.1 344.7 L348.6 340.2 L344.1 334.5 L346.4 330 L341.8 327.7 L344.5 319.8 L344.5 313 L339.6 306.2 L332.8 300.5 L326 293.8 L319.2 291.5 L314.7 292.6 L307.9 296 L300 297.6 L296.6 292.6 L292 288.1 L285.3 285.4 L276.2 285.8 L269.4 284.7 L262.6 287.7 L255.8 288.1 L253.6 283.6 L250.3 287.2 L242.8 286.2 L236.3 287.2 L232.6 291 L234.2 294.2 L232 296.9 L228.3 300.2 L228.8 303.4 L232.6 307.2 L234.2 310.9 L238.5 310.4 L240.6 307.2 L236.3 306.1 L230.9 305.6 L226.6 303.4 L222.3 302.3 L221.8 307.2 L219.1 308.3 L214.8 305.6 L210.5 308.3 L206.2 307.7 L202.9 303.9 L198.4 300.5 L189.4 298.3 L180.3 299.4 L169 296.7 L157.7 297.2 L146.4 300.5 L137.3 306.2 L128.3 313 L118.1 317.1 L110.2 322 L103.4 327.7 L99.3 335.6 L98.4 342.4 L100 351.5 L101.6 360.5 L95.4 371.8 L93.6 389.9 L92.5 405.8 L90.9 413.6 L95.4 429.4 L100 436.2 L103.4 445.3 L110.2 454.3 L115.8 463.4 L119.2 472.4 L123.7 479.2 L132.8 481.5 L139.6 483.7 L146.4 489.4 L157.7 487.1 L171.2 483.7 L184.8 481.9 L196.1 480.3 L205.2 473.5 L209.7 467.9 L213.1 461.1 L214.2 449.8 L217.6 441.9 L227.8 437.3 L239.1 436.2 L244.5 434.1 L253.6 432.5 L267.2 432.9 L272.8 433.4 L274.7 434.1 L276.5 439.5 L274.7 444.2 L271.2 448.4 L266.5 453.1 L264.1 457.2 L264.7 461.4 L261.7 464.3 L261.7 470.3 L263.5 472.6 L260.5 479.7 L259.3 485.7 L257 491.6 L253.4 496.3 L251.1 501.1 L250.5 507 L251.1 511.7 L248.7 516.5 L245.1 521.2 L242.2 524.2 L242.8 526.5 L246.9 527.1 L249.9 529.5 L253.4 530.1 L257 527.7 L262.9 528.9 L268.8 527.7 L277.1 528.3 L285.4 526.5 L290.9 526.6 L304.5 526.6 L315.8 529.3 L322.6 534.5 L331.6 539 L336.1 543.5 L336.1 553.7 L332.7 565 L330.5 576.4 L329.4 585.4 L327.1 593.3 L328.2 599 L324.8 605.8 L328.2 612.6 L333.9 620.5 L340.7 628.4 L347.5 632.9 L352 639.7 L358.8 642 L365.6 645.4 L374.6 644.2 L383.7 639.7 L395.6 633.9 L406.9 635.1 L416 637.3 L425 641.9 L431.8 648.7 L437.5 654.3 L440.9 660 L442 654.3 L440.9 649.8 L447.7 644.1 L454.5 637.3 L461.2 633.9 L461.2 624.9 L465.8 617 L474.8 609.1 L482.7 612.4 L485 605.7 L495.2 604.5 L506.9 598.8 L517.1 594.3 L520.5 588.6 L527.3 585.9 L535.2 587.5 L536.4 592 L531.8 595.4 L525 597.7 L522.8 601.1 L526.2 607.9 L529.6 611.2 L538.6 606.7 L549.9 603.3 L559 601.1 L570.3 601.1 L579.4 604.5 L583.9 610.1 L586.1 615.8 L592.9 616.9 L606.5 615.8 L617.8 615.3 L626.9 620.3 L640 623 L643.1 622.6 L652.2 617 L665.8 615.8 L677.1 615.4 L691.1 614.2 L674.8 615.8 L678.2 621.5 L683.9 627.2 L688.4 626 L692.9 629.4 L698.6 628.3 L704.2 633.9 L708.8 638.5 L707.6 644.1 L704.2 648.7 L697.5 650.2 L702 652.5 L711 649.8 L708.1 648.7 L719.4 649.8 L726.2 654.3 L735.3 660 L744.3 666.8 L749.3 673.5 L749.3 678.8 L757.9 682.6 L766.9 689.4 L771.5 693.2 L780.5 693.9 L790.7 694.6 L793 693.9 L807.7 693.2 L820.1 695 L832.1 699.6"/>
<path d="M390.6 907.6 L384.3 901.3 L375.3 896.8 L369.6 892.2 L374.1 885.5 L369.6 876.4 L366.2 869.6 L375.3 865.1 L393.4 864 L410.3 869.6 L408.1 874.1 L402.4 876 L397.9 871.9 L402.4 865.1 L397.9 853.8 L386.6 843.6 L390 842 L392.2 835.7 L390 828.9 L385.4 837.9 L378.7 833.4 L373.4 830 L376.4 824.4 L374.1 815.3 L375.3 808.5 L382 805.1 L380.9 800.6 L385.4 794.9 L388.4 785.9 L389.3 778.6 L397.9 775.7 L408.1 771.2 L406.5 765.5 L411.5 762.1 L411.9 755.3 L414.9 751.9 L420.5 750.8 L427.3 744 L434.1 736.1 L438.2 728.2 L431.8 722.5 L434.1 718 L434.1 708.6 L430.7 700.7 L435.2 696.2 L431.8 690.5 L434.1 684.9 L430.7 678.1 L426.2 671.3 L420.5 665.6 L416 658.8 L420.5 657.7 L425 656.6 L416 652 L409.2 646.4 L402.4 643.4 L395.6 645.3 L391.1 652 L382 656.6 L386.6 663.4 L389.3 667.9 L382 672 L374.1 672.4 L373.5 669.1 L370.1 662.3 L365.6 663.5 L361 659 L352 655.6 L342.9 654.4 L341.1 657.8 L338.4 654.4 L333.9 651 L327.1 651 L329.4 648.8 L327.1 642 L320.3 637.5 L313.5 632.9 L310.1 628.4 L302.2 623.9 L307.9 629.5 L303.3 631.8 L295.4 627.3 L292 622.7 L293.1 617.1 L290.9 612.6 L293.1 608 L288.6 603.5 L281.8 596.7 L272.8 587.7 L266 580.9 L262.6 576.4 L256.9 572.3 L245.6 573 L232 568.4 L221.9 565 L214.2 561.1 L202.9 560.7 L196.1 558.4 L186 550.5 L175.8 541.4 L166.7 532.4 L157.7 525.6 L148.6 522.2 L140.7 519.9 L135 524.5 L126 527.9 L107.9 529 L96.6 526.7 L85.3 523.3 L76.2 517.7 L67.2 515.4 L58.1 513.1 L49.5 509.3"/>
<path d="M307.9 428 L316.9 423.9 L318.1 418.2 L326 412.6 L339.6 408 L353.1 406.2 L366.7 407.4 L380.3 408 L393.9 411.4 L402.9 417.1 L414.2 417.1 L423.3 421.6 L432.3 428.4 L441.4 435.2 L451.3 438.8 L461.5 442.2 L460.4 446.7 L469.4 447.2 L478.5 450.1 L486.4 454.6 L486.4 456.2 L478.5 459.8 L469.4 461.4 L462.6 460.3 L451.3 459.2 L440 461.4 L436.9 460.1 L427.8 461.2 L434.6 454.4 L436.9 448.8 L427.8 448.8 L418.8 445.4 L414.2 438.6 L409.7 432.9 L402.9 432.9 L393.9 430.7 L384.8 426.1 L373.5 423.9 L369 422.1 L359.9 421.6 L355.4 419.4 L359.9 416 L350.9 414.8 L339.6 416.6 L330.5 420.5 L321.5 425 L314.7 428.4 L307.9 428 Z"/>
<path d="M416.6 487.4 L418.8 484.7 L424.2 483.6 L431.7 484.2 L440.3 485.8 L446.8 488.5 L451.7 491.2 L453.3 494.4 L450 495.5 L445.7 495 L442.5 492.8 L440.3 495 L436 498.2 L433.9 496 L427.4 495.5 L423.1 492.3 L419.9 490.1 Z"/>
<path d="M490.3 115 L496.4 112.4 L508.4 110.2 L517.5 108.7 L525 107.2 L524.7 108.7 L517.5 110.9 L508.4 113.5 L499.4 115.5 L491.1 116.5 Z"/>
<path d="M415.4 382 L419.9 374.1 L424.4 377.5 L426.7 383.1 L424.4 387.7 L419.9 385.4 Z" stroke-width="3.5"/>
<path d="M424.4 387.7 L430.1 391.1 L430.1 396.7 L426.7 396.7 L424.4 392.2 Z" stroke-width="3.5"/>
<path d="M336.2 431.8 L339.6 427.3 L344.5 427.7 L346.4 431.8 L343 435.2 L338.4 435.2 Z" stroke-width="3.5"/>
<path d="M494.3 442.2 L500 438.8 L506.1 437.7 L504.5 442.2 L500 444 L494.8 444 Z" stroke-width="3.5"/>
<path d="M498.8 462.6 L507.9 460.8 L516.9 462.6 L527.1 462.1 L537.3 460.8 L546.4 462.6 L557.7 464.8 L562.2 470.5 L569 472.7 L575.8 476.1 L583.7 481.8 L581.4 487.5 L576.9 489.3 L573.5 485.2 L566.7 483.4 L557.7 484.7 L550.9 488.6 L544.1 487.5 L538.4 490.9 L535 496.5 L531.6 498.8 L527.1 492 L523.7 488.6 L514.7 489.7 L503.4 488.6 L494.3 489.7 L489.8 491.5 L481.9 486.3 L483 482.5 L492 481.8 L505.6 484.1 L515.8 482.5 L512 478.4 L509 471.6 L505.6 467.1 L499.3 464.8 Z"/>
<path d="M602.5 485.6 L612 484.1 L625.6 484.7 L629 488.6 L624.4 493.1 L612 493.8 L603.4 493.1 Z"/>
<path d="M693.4 520.3 L697.9 518.1 L700.6 521.9 L697.9 526.4 L693.8 525.5 Z" stroke-width="3.5"/>
<path d="M694.5 614.2 L706.9 613.1 L708.1 623.3 L697.9 623.8 L699 617.6 L694.5 616.5 Z" stroke-width="3.5"/>
<path d="M552.2 590.9 L555.6 589.3 L559.4 593.1 L558.5 598.8 L554 598.8 L551.7 595 Z" stroke-width="3.5"/>
<path d="M190.5 482.6 L198.4 479.2 L201.1 481.9 L196.1 485.5 L191.2 484.2 Z" stroke-width="3.5"/>
<path d="M197.4 807.9 L200.3 805 L205.4 803.6 L208.7 805.4 L207.9 808.7 L203.2 810.8 L198.9 810.5 Z" stroke-width="3.5"/>
<path d="M213.4 803.6 L217 801.8 L219.5 803.2 L218.8 806.1 L215.9 806.8 L213.5 805.4 Z" stroke-width="3.5"/>
<path d="M529.6 611.2 L529.1 618 L523.9 624.8 L521 629.4 L525 636.1 L528.4 641.8 L535.2 639.5 L538.6 633.9 L538.6 627.1 L534.1 620.3 L530 614.6 Z"/>
<path d="M216.4 290.5 L219.1 287.2 L223.4 288.3 L225.6 290.5 L222.3 292.6 L218 292.6 Z"/>
<path d="M530 613.6 L534.5 622.6 L537.9 631.7 L535.7 639.6 L530 641.9"/>
</g>
<g stroke="#000" stroke-width="3.9" fill="none" stroke-linejoin="round" stroke-linecap="round">
<path d="M534.1 94.8 L535.6 99.6"/>
<path d="M490.3 104.1 L491.1 108.7 L489.6 112.4 L486.6 116.2"/>
<path d="M464.4 131.3 L466.2 128 L470.7 125.6 L475.3 124.2"/>
<path d="M456.8 172.4 L456.2 168.1 L458.4 163.8 L460.5 159.5 L457.3 155.2 L454.1 153.5 L454.6 149.2 L453.5 145.5 L452.5 141.2 L454.1 136.8 L456.2 133.6 L453 134.2 L449.8 135.8 L447.1 139 L446.5 143.3 L447.6 147.6 L449.8 151.9 L451.4 156.2 L451.9 160.5 L451.4 164.9 L452.5 169.2 L454.1 173.5 L456.2 176.7"/>
<path d="M447.6 147.6 L443.9 150.9 L439.5 144.9 L435.8 148.2 L434.2 151.4 L437.9 154.6 L442.2 158.4 L446.5 162.2 L450.3 165.9"/>
<path d="M435.2 170.2 L440.1 170.8 L444.4 168.1 L448.2 165.9"/>
<path d="M443.9 172.4 L448.2 175.6 L451.9 175.6"/>
<path d="M449.8 137.9 L449.2 143.3 L450.9 148.2"/>
<path d="M443.3 188.6 L444.4 192.3 L448.7 191.8 L453 188.6 L456.2 187.5"/>
<path d="M453.5 193.9 L456.2 198.2 L458.4 195"/>
<path d="M438.5 200.4 L442.2 202.6 L446.5 200.4 L449.8 204.2 L455.2 202.6 L459.5 199.3"/>
<path d="M437.9 207.4 L442.2 210.1 L446.5 209 L450.3 210.1"/>
<path d="M441.2 146.5 L445.5 155.2 L449.2 160.5"/>
<path d="M437.9 150.9 L443.9 157.3 L448.2 162.7"/>
<path d="M448.2 140.1 L448.2 146.5 L450.3 153"/>
<path d="M451.9 135.8 L451.4 142.2 L453.2 147.6"/>
<path d="M442.2 170.2 L448.2 172.4"/>
</g>
<g stroke="#000" stroke-width="4.2" fill="none" stroke-linejoin="round" stroke-linecap="round">
<path d="M396.1 82.5 L389.4 84.1 L375.8 86.3 L362.2 90.8 L350.9 96.5 L345.2 97.6 L338.4 95.4 L336.9 89.7 L339.6 84.1 L343 82.5"/>
<path d="M547.7 96.6 L551.4 98.1 L556.4 97.3 L557.9 93.9 L554.9 90.6 L551 90.9"/>
<path d="M542.4 102.9 L549.2 102.6"/>
<path d="M552.5 103.8 L557.5 103.8"/>
<path d="M406.3 348.1 L412 349.2 L418.8 347.4 L425.6 343.5 L432.3 345.8 L438 350.3 L436.9 357.1 L433.5 359.4"/>
<path d="M430.1 375.2 L434.6 375.2"/>
<path d="M442.5 367.3 L450 370.7"/>
<path d="M272.8 451 L275.8 452.2"/>
<path d="M365.6 470.7 L370.8 470.7"/>
<path d="M442.7 367.1 L449.1 370.9 L453.6 374.3 L451.8 381.1"/>
<path d="M460.4 381.1 L467.2 389"/>
<path d="M480.3 391.5 L481.6 392.9"/>
<path d="M455.4 398.8 L461.5 401.9"/>
<path d="M467.2 398.8 L470.5 406 L475.1 410.5"/>
<path d="M484.1 412.3 L492.5 414.6 L488.7 419.6 L484.8 423"/>
<path d="M502.9 419.1 L510.6 420.7"/>
<path d="M517.4 429.3 L519.2 429.8"/>
<path d="M526 429.5 L528.3 430"/>
<path d="M501.1 476.8 L509 480.7"/>
<path d="M506.8 458.5 L512.4 459.2"/>
<path d="M563.3 472.1 L567.2 472.5"/>
<path d="M630.8 490.9 L633.5 491.1"/>
<path d="M641.9 497.2 L645.5 497.2"/>
<path d="M699 532.8 L701.3 537.8"/>
<path d="M704.2 546.4 L707.4 551.3"/>
<path d="M707.8 558.8 L706 563.3"/>
<path d="M709.7 606.8 L714.2 604.5"/>
<path d="M650.4 609.7 L658.3 608.6"/>
<path d="M709.2 650 L722.8 649.3"/>
<path d="M570.3 586.4 L577.1 591.3"/>
<path d="M583.4 588.2 L586.1 592"/>
<path d="M94.3 427.2 L100.6 436.2"/>
<path d="M278.4 520.9 L285.2 518.7"/>
<path d="M302.2 623.9 L306.7 627.3"/>
<path d="M331.2 649.9 L336.1 651"/>
<path d="M649.9 609.5 L659 608.6"/>
<path d="M653.3 616.3 L660.1 616.3"/>
<path d="M749.3 673.5 L748.4 679.2 L746.1 686"/>
<path d="M790.7 694.6 L791.8 698.4"/>
<path d="M198.5 792 L201 794.5 L201.8 798.1 L204.7 801 L206.8 803.2"/>
<path d="M229.3 808.3 L234 805.4"/>
<path d="M255.2 478.6 L252.8 483.3 L251.6 485.7"/>
<path d="M257 486.9 L255.2 494"/>
<path d="M272.4 454.3 L275.9 450.1"/>
<path d="M256.4 504 L258.8 500.5"/>
<path d="M225.6 290.5 L232.6 291"/>
<path d="M233.1 307.7 L237.4 309.3"/>
<path d="M386.1 837.5 L389.3 832.3 L391.6 835.7 L389.3 841.3"/>
<path d="M391.5 410.5 L397 412 L402.5 415.5"/>
<path d="M413 415.5 L420 418 L428 423.5 L435 429"/>
</g>
<g fill="#000">
<ellipse cx="140.2" cy="299.0" rx="3.1" ry="2.6"/>
<ellipse cx="157.7" cy="294.9" rx="3.1" ry="2.6"/>
<ellipse cx="189.4" cy="298.1" rx="3.1" ry="2.6"/>
<ellipse cx="112.9" cy="315.7" rx="3.1" ry="2.6"/>
<ellipse cx="100.6" cy="329.3" rx="3.1" ry="2.6"/>
<ellipse cx="95.0" cy="336.8" rx="3.1" ry="2.6"/>
<ellipse cx="631.1" cy="489.8" rx="3.1" ry="2.6"/>
<ellipse cx="643.6" cy="497.3" rx="3.1" ry="2.6"/>
<ellipse cx="677.1" cy="504.5" rx="3.1" ry="2.6"/>
<ellipse cx="692.9" cy="499.3" rx="3.1" ry="2.6"/>
<ellipse cx="692.9" cy="507.9" rx="3.1" ry="2.6"/>
<ellipse cx="702.0" cy="527.1" rx="3.1" ry="2.6"/>
<ellipse cx="702.9" cy="572.4" rx="3.1" ry="2.6"/>
<ellipse cx="730.7" cy="573.1" rx="3.1" ry="2.6"/>
<ellipse cx="694.5" cy="590.9" rx="3.1" ry="2.6"/>
<ellipse cx="634.1" cy="610.9" rx="3.1" ry="2.6"/>
<ellipse cx="556.3" cy="584.1" rx="3.1" ry="2.6"/>
<ellipse cx="633.7" cy="610.8" rx="3.1" ry="2.6"/>
<ellipse cx="256.9" cy="502.8" rx="3.1" ry="2.6"/>
<ellipse cx="367.8" cy="471.1" rx="3.1" ry="2.6"/>
<ellipse cx="359.9" cy="668.7" rx="3.1" ry="2.6"/>
<ellipse cx="360.5" cy="668.3" rx="3.1" ry="2.6"/>
<ellipse cx="407.4" cy="653.9" rx="3.1" ry="2.6"/>
<ellipse cx="333.4" cy="650.9" rx="3.1" ry="2.6"/>
<ellipse cx="634.1" cy="610.2" rx="3.1" ry="2.6"/>
<ellipse cx="196.3" cy="799.2" rx="3.1" ry="2.6"/>
<ellipse cx="210.5" cy="797.8" rx="3.1" ry="2.6"/>
<ellipse cx="214.7" cy="814.8" rx="3.1" ry="2.6"/>
<ellipse cx="198.1" cy="792.9" rx="3.1" ry="2.6"/>
<ellipse cx="378.5" cy="251.5" rx="3.1" ry="2.6"/>
<ellipse cx="402.0" cy="237.0" rx="3.1" ry="2.6"/>
<ellipse cx="421.5" cy="225.7" rx="3.1" ry="2.6"/>
<ellipse cx="433.5" cy="214.8" rx="3.1" ry="2.6"/>
<ellipse cx="377.6" cy="316.4" rx="3.1" ry="2.6"/>
<ellipse cx="344.5" cy="328.4" rx="3.1" ry="2.6"/>
<ellipse cx="356.5" cy="345.8" rx="3.1" ry="2.6"/>
<ellipse cx="375.3" cy="372.3" rx="3.1" ry="2.6"/>
</g>
</g>
<rect x="85.0" y="194.7" width="49" height="27" rx="8" fill="#fff"/>
<text x="109.5" y="213.1" font-size="14" text-anchor="middle" textLength="33.6" lengthAdjust="spacingAndGlyphs" fill="#000">35°N</text>
<rect x="85.0" y="361.7" width="49" height="27" rx="8" fill="#fff"/>
<text x="109.5" y="380.1" font-size="14" text-anchor="middle" textLength="33.6" lengthAdjust="spacingAndGlyphs" fill="#000">25°N</text>
<rect x="85.0" y="528.7" width="49" height="27" rx="8" fill="#fff"/>
<text x="109.5" y="547.1" font-size="14" text-anchor="middle" textLength="33.6" lengthAdjust="spacingAndGlyphs" fill="#000">15°N</text>
<rect x="84.8" y="695.7" width="40.5" height="27" rx="8" fill="#fff"/>
<text x="105.0" y="714.1" font-size="14" text-anchor="middle" textLength="25" lengthAdjust="spacingAndGlyphs" fill="#000">5°N</text>
<rect x="85.0" y="862.4" width="39" height="27" rx="8" fill="#fff"/>
<text x="104.5" y="880.8" font-size="14" text-anchor="middle" textLength="23.6" lengthAdjust="spacingAndGlyphs" fill="#000">5°S</text>
<rect x="195.8" y="844.9" width="53" height="27" rx="8" fill="#fff"/>
<text x="222.3" y="863.3" font-size="14" text-anchor="middle" textLength="37.6" lengthAdjust="spacingAndGlyphs" fill="#000">90°W</text>
<rect x="362.7" y="844.9" width="53" height="27" rx="8" fill="#fff"/>
<text x="389.2" y="863.3" font-size="14" text-anchor="middle" textLength="37.6" lengthAdjust="spacingAndGlyphs" fill="#000">80°W</text>
<rect x="529.5" y="844.9" width="53" height="27" rx="8" fill="#fff"/>
<text x="556.0" y="863.3" font-size="14" text-anchor="middle" textLength="37.6" lengthAdjust="spacingAndGlyphs" fill="#000">70°W</text>
<rect x="696.5" y="844.9" width="53" height="27" rx="8" fill="#fff"/>
<text x="723.0" y="863.3" font-size="14" text-anchor="middle" textLength="37.6" lengthAdjust="spacingAndGlyphs" fill="#000">60°W</text>
<rect x="49.5" y="82.5" width="782.7" height="825.5" fill="none" stroke="#000" stroke-width="1.4"/>
<rect x="841.2" y="640.7" width="18.0" height="131.69999999999993" fill="#fff"/>
<rect x="841.2" y="508.7" width="18.0" height="132.00000000000006" fill="#ffffb2"/>
<rect x="841.2" y="377.2" width="18.0" height="131.5" fill="#fecc5c"/>
<rect x="841.2" y="244.7" width="18.0" height="132.5" fill="#fd8d3c"/>
<path d="M841.2 244.7 L850.2 218.8 L859.2 244.7 Z" fill="#e31a1c"/>
<path d="M841.2 772.4 V244.7 L850.2 218.8 L859.2 244.7 V772.4 Z" fill="none" stroke="#000" stroke-width="1.7" stroke-linejoin="miter"/>
<g stroke="#000" stroke-width="1.7">
<path d="M859.2 772.6 H868.8"/>
<path d="M859.2 640.9000000000001 H868.8"/>
<path d="M859.2 508.9 H868.8"/>
<path d="M859.2 377.4 H868.8"/>
<path d="M859.2 244.89999999999998 H868.8"/>
</g>
<g font-size="24" fill="#000">
<text x="880" y="781.2" textLength="14.5" lengthAdjust="spacingAndGlyphs">0</text>
<text x="880" y="649.5" textLength="29" lengthAdjust="spacingAndGlyphs">34</text>
<text x="880" y="517.5" textLength="29" lengthAdjust="spacingAndGlyphs">50</text>
<text x="880" y="386.0" textLength="29" lengthAdjust="spacingAndGlyphs">64</text>
<text x="880" y="253.5" textLength="29" lengthAdjust="spacingAndGlyphs">95</text>
</g>
<text transform="translate(938.6 666.5) rotate(-90)" font-size="24" textLength="313" lengthAdjust="spacingAndGlyphs" fill="#000">Forecast Wind Speed [kt]</text>
<g font-size="24.3" fill="#000" text-anchor="middle">
<text x="441.5" y="39" textLength="841" lengthAdjust="spacingAndGlyphs">High End Strength - 1 in 10 Chance (10%) of Windspeed or Greater</text>
<text x="452.5" y="67" textLength="691" lengthAdjust="spacingAndGlyphs">for the 120 hours (5.0 days) from 2024-07-01 06:00:00</text>
</g>
</svg></body></html>
